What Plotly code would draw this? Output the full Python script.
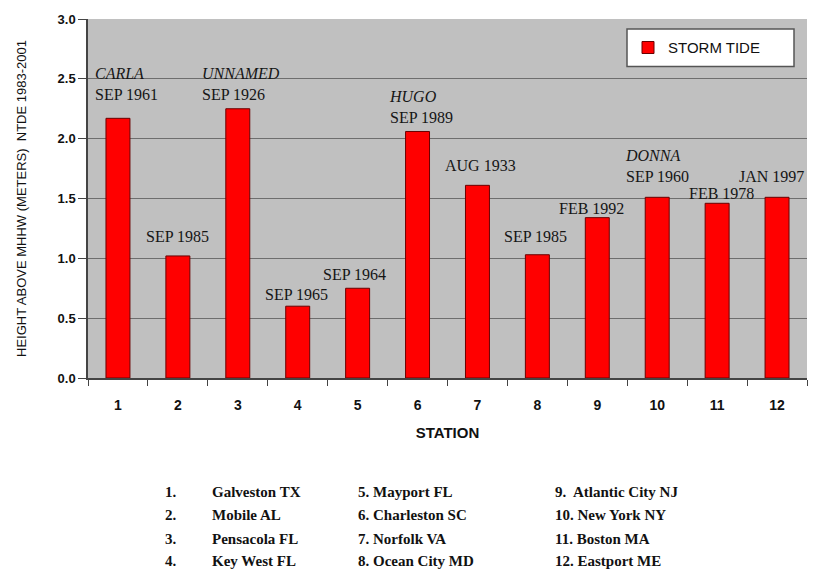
import plotly.graph_objects as go

# Peak storm tide at each station (m above MHHW, NTDE 1983-2001)
stations = list(range(1, 13))
storm_tide = [2.17, 1.02, 2.25, 0.60, 0.75, 2.06, 1.61, 1.03, 1.34, 1.51, 1.46, 1.51]

# Storm name (italic, optional) and date shown above each bar
storm_names = ["CARLA", "", "UNNAMED", "", "", "HUGO", "", "", "", "DONNA", "", ""]
storm_dates = ["SEP 1961", "SEP 1985", "SEP 1926", "SEP 1965", "SEP 1964", "SEP 1989",
               "AUG 1933", "SEP 1985", "FEB 1992", "SEP 1960", "FEB 1978", "JAN 1997"]

# Station key printed under the chart
station_key = [
    ["1.", "Galveston TX"], ["2.", "Mobile AL"], ["3.", "Pensacola FL"], ["4.", "Key West FL"],
]
station_key_mid = ["5. Mayport FL", "6. Charleston SC", "7. Norfolk VA", "8. Ocean City MD"]
station_key_right = ["9.  Atlantic City NJ", "10. New York NY", "11. Boston MA", "12. Eastport ME"]

# label placement tweaks (pixels): horizontal offset of the label's left edge from bar centre,
# and vertical gap above bar top
label_dx = [-25, -34, -38, -35, -37, -31, -34, -35, -40, -34, -30, -40]
label_dy = [13, 9, 4, 1, 3, 3, 9, 8, -1, 10, -1, 10]

fig = go.Figure()
fig.add_trace(go.Bar(
    x=stations, y=storm_tide, name="STORM TIDE",
    width=0.4,
    marker=dict(color="#ff0000", line=dict(color="#6a0000", width=1)),
    showlegend=True,
))

serif = "Liberation Serif, Times New Roman, serif"
sans = "Liberation Sans, Arial, sans-serif"

annotations = []
for s, v, nm, dt, dx, dy in zip(stations, storm_tide, storm_names, storm_dates, label_dx, label_dy):
    txt = (f"<i>{nm}</i><br>{dt}" if nm else dt)
    annotations.append(dict(
        x=s, y=v, xref="x", yref="y", text=txt, showarrow=False,
        xanchor="left", yanchor="bottom", align="left",
        xshift=dx, yshift=dy,
        font=dict(family=serif, size=16, color="#151515"),
    ))

# Station key table below the plot
L, W, B, H = 88, 719, 378, 362
def px_x(p):
    return (p - L) / W
def px_y(p):
    return (B - p) / H

row_y = [493, 516, 540, 563]
key_font = dict(family=serif, size=15, color="#111111")
for (num, name), mid, right, yy in zip(station_key, station_key_mid, station_key_right, row_y):
    for xx, t in ((163, num), (210, name), (356, mid), (553, right)):
        annotations.append(dict(
            x=px_x(xx), y=px_y(yy), xref="paper", yref="paper", text=f"<b>{t}</b>",
            showarrow=False, xanchor="left", yanchor="middle", font=key_font,
        ))

fig.update_layout(
    width=819, height=575,
    margin=dict(l=88, r=12, t=16, b=197),
    paper_bgcolor="white",
    plot_bgcolor="#c0c0c0",
    bargap=0.6,
    annotations=annotations,
    shapes=[dict(type="rect", xref="paper", yref="paper",
                 x0=px_x(627), x1=px_x(794), y0=px_y(64), y1=px_y(26),
                 fillcolor="white", line=dict(color="#555555", width=1.5), layer="above")],
    legend=dict(x=px_x(628), y=px_y(45), xanchor="left", yanchor="middle",
                bgcolor="rgba(0,0,0,0)", borderwidth=0,
                font=dict(family=sans, size=15, color="#111111"),
                itemwidth=30),
    xaxis=dict(
        range=[0.5, 12.5], tickvals=stations, ticktext=[f"<b>{s}</b>" for s in stations],
        ticks="", showgrid=False, ticklabelstandoff=13,
        showline=True, linecolor="#444444", linewidth=1.5,
        tickfont=dict(family=sans, size=14, color="#111111"),
        minor=dict(tickvals=[s - 0.5 for s in stations] + [12.5], ticks="outside",
                   ticklen=6, tickcolor="#444444", tickwidth=1, showgrid=False),
        title=dict(text="<b>STATION</b>", font=dict(family=sans, size=15, color="#111111"),
                   standoff=16),
        zeroline=False,
    ),
    yaxis=dict(
        range=[0, 3.0], dtick=0.5,
        tickvals=[0, 0.5, 1.0, 1.5, 2.0, 2.5, 3.0],
        ticktext=["<b>0.0</b>", "<b>0.5</b>", "<b>1.0</b>", "<b>1.5</b>",
                  "<b>2.0</b>", "<b>2.5</b>", "<b>3.0</b>"],
        ticks="outside", ticklen=8, tickcolor="#444444",
        showgrid=True, gridcolor="#6e6e6e", gridwidth=1.2,
        showline=True, linecolor="#444444", linewidth=1.5,
        zeroline=False,
        tickfont=dict(family=sans, size=13, color="#111111"),
        title=dict(text="HEIGHT ABOVE MHHW (METERS)  NTDE 1983-2001",
                   font=dict(family=sans, size=13, color="#111111"), standoff=28),
    ),
)

fig.write_html("out.html")
